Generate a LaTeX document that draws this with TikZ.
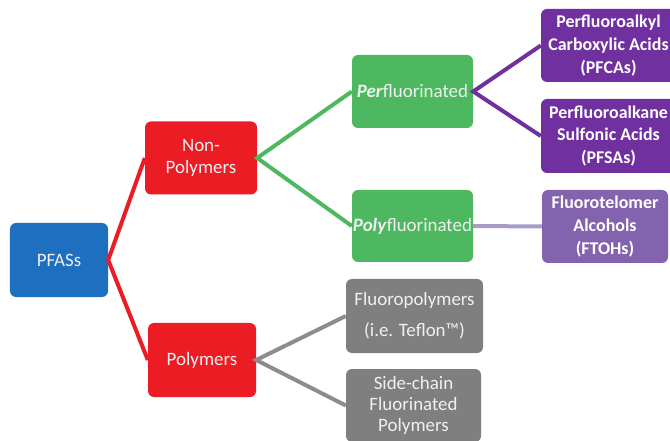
\documentclass[tikz,border=0pt]{standalone}
\usepackage{fontspec}
\setmainfont{Carlito}
\usepackage{tikz}

\definecolor{pfasblue}{HTML}{1E6FC0}
\definecolor{nonred}{HTML}{EC1C24}
\definecolor{fgreen}{HTML}{4DB860}
\definecolor{darkpurple}{HTML}{7030A0}
\definecolor{lightpurple}{HTML}{8463AE}
\definecolor{palepurple}{HTML}{A89BC8}
\definecolor{boxgray}{HTML}{7F7F7F}

\tikzset{box/.style={rounded corners=6bp, text=white!94!black, align=center, inner sep=0pt,
  font=\fontsize{19}{22}\selectfont},
  boldbox/.style={box, text=white, font=\fontsize{18}{23}\selectfont\bfseries},
  link/.style={line width=4bp}}

\begin{document}
\begin{tikzpicture}[x=1bp, y=-1bp]
      \useasboundingbox (0, 0) rectangle (670, 441);

      \node [box, fill=pfasblue, minimum width=98bp, minimum height=74bp] (pfas) at (59, 260) {PFASs};

      \node [box, fill=nonred, minimum width=112bp, minimum height=73bp] (nonpoly) at (201, 158) {Non-\\Polymers};
      \node [box, fill=nonred, minimum width=108bp, minimum height=74bp] (poly) at (202, 360) {Polymers};

      \node [box, fill=fgreen, minimum width=121bp, minimum height=73bp] (perf) at (412.5, 91.5) {\textbf{\textit{Per}}fluorinated};
      \node [box, fill=fgreen, minimum width=121bp, minimum height=72bp] (polyf) at (412.5, 226) {\textbf{\textit{Poly}}fluorinated};

      \node [boldbox, fill=darkpurple, minimum width=135bp, minimum height=73bp] (pfca) at (608.5, 45.5) {Perfluoroalkyl\\Carboxylic Acids\\(PFCAs)};
      \node [boldbox, fill=darkpurple, minimum width=135bp, minimum height=74bp] (pfsa) at (608.5, 136) {Perfluoroalkane\\Sulfonic Acids\\(PFSAs)};
      \node [boldbox, fill=lightpurple, minimum width=126bp, minimum height=73bp] (ftoh) at (605, 226.5) {Fluorotelomer\\Alcohols\\(FTOHs)};

      \node [box, fill=boxgray, minimum width=137bp, minimum height=74bp] (fluoropoly) at (414.5, 316) {Fluoropolymers\\[9bp](i.e. Teflon™)};
      \node [box, fill=boxgray, minimum width=135bp, minimum height=73bp, font=\fontsize{19}{21}\selectfont] (sidechain) at (413.5, 405.5) {Side-chain\\Fluorinated\\Polymers};

      \draw [link, nonred] (nonpoly.west) -- (pfas.east) -- (poly.west);
      \draw [link, fgreen] (perf.west) -- (nonpoly.east) -- (polyf.west);
      \draw [link, darkpurple] (pfca.west) -- (perf.east) -- (pfsa.west);
      \draw [link, palepurple] (polyf.east) -- (ftoh.west);
      \draw [link, boxgray!90] (fluoropoly.west) -- (poly.east) -- (sidechain.west);
    \end{tikzpicture}
\end{document}
